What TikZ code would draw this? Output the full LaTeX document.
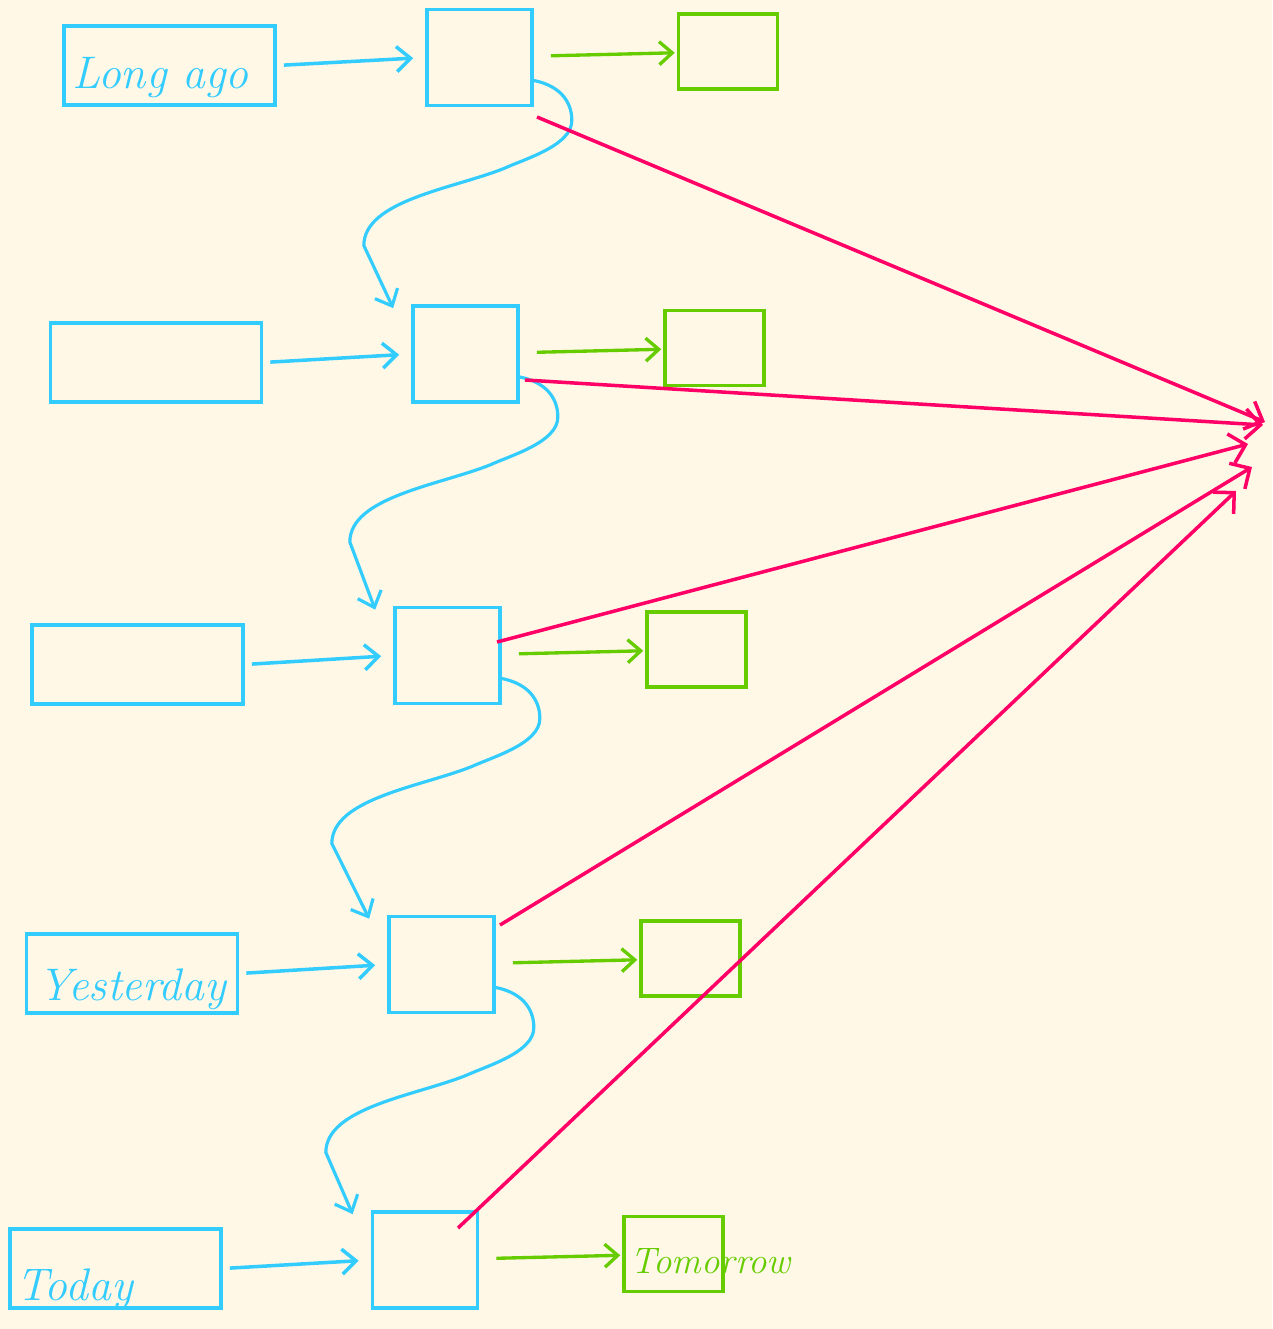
\documentclass[tikz,border=0pt]{standalone}
\usepackage{tikz}
\usetikzlibrary{arrows.meta}
\definecolor{sky}{HTML}{33CCFF}
\definecolor{leaf}{HTML}{66CC00}
\definecolor{rose}{HTML}{FF0066}
\definecolor{paper}{HTML}{FFF8E7}
\tikzset{
  lbox/.style={draw=sky,line width=2.1pt,minimum width=4.22cm,minimum height=1.58cm,inner sep=0pt},
  mbox/.style={draw=sky,line width=2.1pt,minimum width=2.1cm,minimum height=1.92cm,inner sep=0pt},
  gbox/.style={draw=leaf,line width=2pt,minimum width=1.98cm,minimum height=1.5cm,inner sep=0pt},
  hand/.style={anchor=base west,inner sep=0pt,text=sky,font=\fontsize{26}{30}\selectfont\itshape},
  bl/.style={sky,line width=2pt,-{Straight Barb[length=2.8mm,width=5mm]},shorten <=0.14cm,shorten >=0.24cm},
  gr/.style={leaf,line width=1.9pt,-{Straight Barb[length=2.6mm,width=4.6mm]},shorten <=0.34cm,shorten >=0.04cm},
  wg/.style={sky,line width=1.8pt,-{Straight Barb[length=2.8mm,width=5mm]}},
  rd/.style={rose,line width=2pt,-{Straight Barb[length=3mm,width=6mm]}}
}
\newcommand{\wig}[2]{\draw[wg] ([yshift=-0.46cm]#1.east) .. controls +(25,5) and +(0,-20) .. ++(38,40) .. controls +(0,25) and +(22,-10) .. ++(-68,48) .. controls +(-50,20) and +(0,-45) .. ++(-140,77) -- ([xshift=-0.36cm,yshift=-0.08cm]#2.north west);}

\begin{document}
\begin{tikzpicture}[x=0.02cm,y=-0.02cm]
\useasboundingbox (0,0) rectangle (1272,1329);
\fill[paper] (0,0) rectangle (1272,1329);
\node[lbox] (l1) at (169.5,65.5) {}; \node[mbox] (m1) at (479.5,57.5) {}; \node[gbox] (g1) at (728,51.5) {};
\node[lbox] (l2) at (156,362.5) {}; \node[mbox] (m2) at (465.5,354) {}; \node[gbox] (g2) at (714.5,348) {};
\node[lbox] (l3) at (137.5,664.5) {}; \node[mbox] (m3) at (447.5,655.5) {}; \node[gbox] (g3) at (696.5,649.5) {};
\node[lbox] (l4) at (132,973.5) {}; \node[mbox] (m4) at (441.5,964.5) {}; \node[gbox] (g4) at (690.5,958.5) {};
\node[lbox] (l5) at (115.5,1268.5) {}; \node[mbox] (m5) at (425,1260) {}; \node[gbox] (g5) at (673.5,1254) {};
\node[hand] (t1) at (72,88) {Long ago};
\node[hand] (t4) at (38,1000) {Yesterday};
\node[hand] (t5) at (16,1300) {Today};
\node[hand,text=leaf,font=\fontsize{21}{24}\selectfont\itshape] (t6) at (630,1273) {Tomorrow};
\draw[bl] (l1.east) -- (m1.west); \draw[gr] (m1) -- (g1);
\draw[bl] (l2.east) -- (m2.west); \draw[gr] (m2) -- (g2);
\draw[bl] (l3.east) -- (m3.west); \draw[gr] (m3) -- (g3);
\draw[bl] (l4.east) -- (m4.west); \draw[gr] (m4) -- (g4);
\draw[bl] (l5.east) -- (m5.west); \draw[gr] (m5) -- (g5);
\wig{m1}{m2} \wig{m2}{m3} \wig{m3}{m4} \wig{m4}{m5}
\coordinate (s1) at (537,117); \coordinate (e1) at (1265,422);
\coordinate (s2) at (525,380); \coordinate (e2) at (1263,425);
\coordinate (s3) at (497,642); \coordinate (e3) at (1248,444);
\coordinate (s4) at (500,925); \coordinate (e4) at (1252,467);
\coordinate (s5) at (458,1228); \coordinate (e5) at (1236,491);
\draw[rd] (s1) -- (e1); \draw[rd] (s2) -- (e2); \draw[rd] (s3) -- (e3);
\draw[rd] (s4) -- (e4); \draw[rd] (s5) -- (e5);
\end{tikzpicture}
\end{document}
